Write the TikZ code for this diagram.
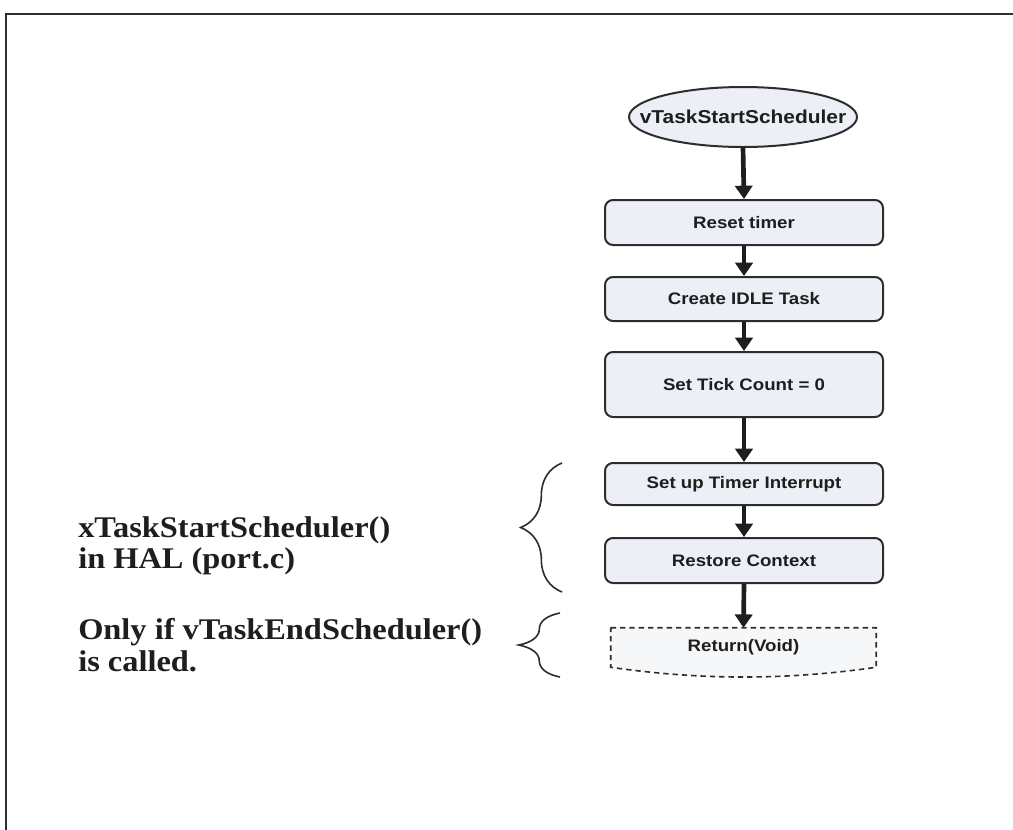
\documentclass[tikz,border=0pt]{standalone}
\usepackage{fontspec}
\setmainfont{Liberation Serif}
\newfontfamily\boxfont[FakeStretch=1.12]{Liberation Sans}
\newfontfamily\notefont[FakeStretch=1.08]{Liberation Serif}
\usetikzlibrary{shapes.geometric,arrows.meta,decorations.pathreplacing,backgrounds}

\definecolor{boxfill}{RGB}{236,239,246}
\definecolor{retfill}{RGB}{246,247,249}
\definecolor{edge}{RGB}{45,45,45}
\definecolor{ink}{RGB}{30,30,30}

\begin{document}
\begin{tikzpicture}[x=0.75pt,y=-0.75pt,
  stepbox/.style={draw=edge, line width=1.5pt, rounded corners=6pt, fill=boxfill,
    minimum width=278*0.75pt, inner sep=0pt, text=ink,
    font=\boxfont\bfseries\fontsize{12.5}{14}\selectfont},
  flow/.style={line width=3.5pt, draw=ink, -{Triangle[width=13pt,length=10pt]}},
  bracestyle/.style={draw=edge, line width=1.2pt, decorate,
    decoration={brace, amplitude=31pt}},
  note/.style={anchor=west, align=left, inner sep=0pt, text=ink,
    font=\notefont\bfseries\fontsize{22.5}{23.5}\selectfont}
]
\useasboundingbox (0,0) rectangle (1013,829);

% outer frame (open on the right and bottom)
\draw[edge, line width=2.2pt] (6,832) -- (6,14) -- (1016,14);

% start terminal: fixed-size box whose outline is an ellipse
\node[minimum width=228*0.75pt, minimum height=60*0.75pt, inner sep=0pt, text=ink,
      font=\boxfont\bfseries\fontsize{14}{16}\selectfont]
  (start) at (743,117) {vTaskStartScheduler};

% process steps
\node[stepbox, minimum height=45*0.75pt] (reset) at (744,222.5) {Reset timer};
\node[stepbox, minimum height=44*0.75pt] (idle)  at (744,299)   {Create IDLE Task};
\node[stepbox, minimum height=65*0.75pt] (tick)  at (744,384.5) {Set Tick Count = 0};
\node[stepbox, minimum height=42*0.75pt] (irq)   at (744,484)   {Set up Timer Interrupt};
\node[stepbox, minimum height=45*0.75pt] (ctx)   at (744,560.5) {Restore Context};

% optional return, drawn as a dashed document shape
\node[minimum width=265*0.75pt, minimum height=39*0.75pt, inner sep=0pt, text=ink,
      font=\boxfont\bfseries\fontsize{12.5}{14}\selectfont]
  (ret) at (743.5,647.5) {Return(Void)};

\begin{scope}[on background layer]
  \fill[white] (0,0) rectangle (1013,829);
  \draw[edge, line width=1.5pt, fill=boxfill]
    (start.center) ellipse [x radius=114, y radius=30];
  \draw[edge, line width=1.2pt, dash pattern=on 4pt off 3pt, fill=retfill]
    (ret.north west) -- (ret.north east) -- (ret.south east)
    .. controls +(-90,13) and +(90,13) .. (ret.south west) -- cycle;
\end{scope}

% flow connectors
\draw[flow] (start.south) -- (reset.north);
\draw[flow] (reset.south) -- (idle.north);
\draw[flow] (idle.south)  -- (tick.north);
\draw[flow] (tick.south)  -- (irq.north);
\draw[flow] (irq.south)   -- (ctx.north);
\draw[flow] (ctx.south)   -- (ret.north);

% braces grouping the port-layer steps and the optional return
\coordinate (halTop) at (562,463);
\coordinate (halBot) at (562,592);
\coordinate (endTop) at (560,613);
\coordinate (endBot) at (560,677);
\draw[bracestyle] (halBot) -- (halTop);
\draw[bracestyle] (endBot) -- (endTop);

% annotations
\node[note] (hal) at (78,546) {xTaskStartScheduler()\\in HAL (port.c)};
\node[note] (endnote) at (78,645) {Only if vTaskEndScheduler()\\is called.};
\end{tikzpicture}
\end{document}
